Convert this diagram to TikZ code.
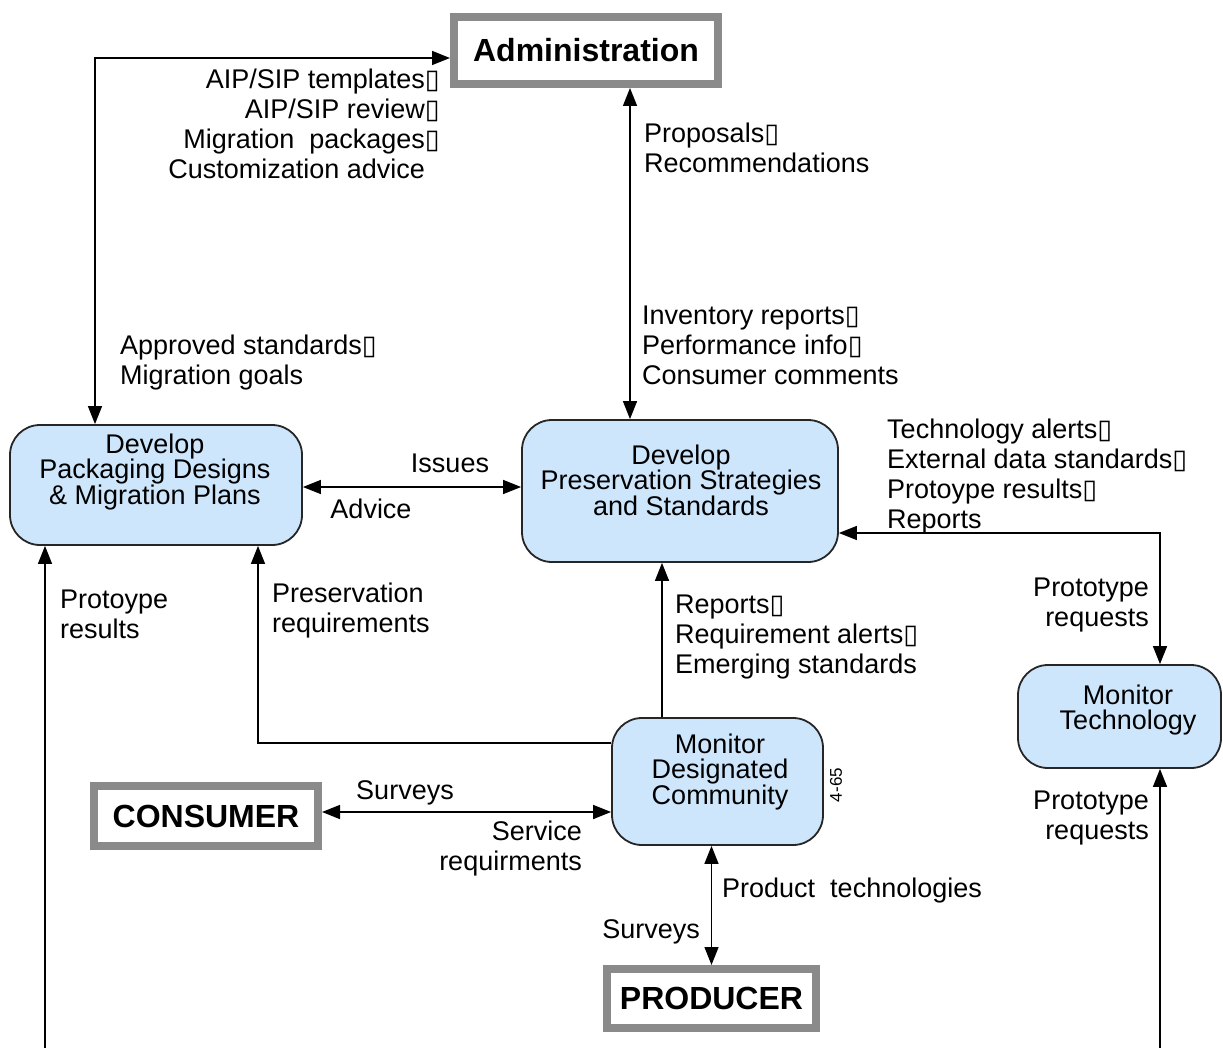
\documentclass[tikz,border=0pt]{standalone}
\usepackage{fontspec}
\setmainfont{Liberation Sans}
\newfontfamily\dvfont{DejaVu Sans}
\usetikzlibrary{arrows.meta}
\newcommand\tofu{{\dvfont ▯}}
\definecolor{procblue}{RGB}{205,230,252}
\definecolor{boxgray}{RGB}{138,138,138}
\begin{document}
\begin{tikzpicture}[x=1pt,y=-1pt,
  graybox/.style={draw=boxgray, line width=8pt, fill=white, inner sep=0pt, font=\fontsize{32}{36}\selectfont\bfseries},
  procbox/.style={draw=black!85, line width=1.8pt, fill=procblue, rounded corners=30pt, inner sep=0pt},
  boxtext/.style={align=center, font=\fontsize{27}{25.5}\selectfont, inner sep=0pt},
  lbl/.style={font=\fontsize{27}{30}\selectfont, inner sep=0pt},
  tip/.tip={Triangle[length=18pt,width=14pt]},
  arr/.style={line width=1.5pt, -tip},
  biarr/.style={line width=1.5pt, tip-tip}]
\useasboundingbox (0,0) rectangle (1223,1048);
% gray entity boxes
\node[graybox, minimum width=264pt, minimum height=67pt] (admin) at (586,50.5) {Administration};
\node[graybox, minimum width=224pt, minimum height=60pt] (consumer) at (206,816) {CONSUMER};
\node[graybox, minimum width=209pt, minimum height=59pt] (producer) at (711.5,998.5) {PRODUCER};
% process boxes
\node[procbox, minimum width=292pt, minimum height=120pt] (pack) at (156,485) {};
\node[boxtext] (packtext) at (155,472) {Develop\\Packaging Designs\\\& Migration Plans};
\node[procbox, minimum width=316pt, minimum height=142pt] (pres) at (680,491) {};
\node[boxtext] (prestext) at (681,480) {Develop\\Preservation Strategies\\and Standards};
\node[procbox, minimum width=211pt, minimum height=127pt] (mondc) at (717.5,781.5) {};
\node[boxtext] (mondctext) at (720,772) {Monitor\\Designated\\Community};
\node[procbox, minimum width=203pt, minimum height=103pt] (montech) at (1119.5,716.5) {};
\node[boxtext] (montechtext) at (1128,710) {Monitor\\Technology};
\node[inner sep=0pt, rotate=90, font=\fontsize{17}{17}\selectfont] (pagenum) at (836,785) {4-65};
% free ends
\coordinate (pkbot) at (45,1048);
\coordinate (mtbot) at (1160,1048);
% connectors
\draw[biarr] ([yshift=-7.5pt]admin.west) -| ([xshift=-61pt]pack.north);
\draw[biarr] ([xshift=44pt]admin.south) -- ([xshift=-50pt]pres.north);
\draw[biarr] ([yshift=-2pt]pack.east) -- ([yshift=-2pt]pack.east -| pres.west);
\draw[biarr] ([yshift=-42pt]pres.east) -| ([xshift=40.5pt]montech.north);
\draw[arr] (mtbot) -- (mtbot |- montech.south);
\draw[arr] (pkbot) -- (pkbot |- pack.south);
\draw[arr] ([yshift=38.5pt]mondc.west) -| ([xshift=102pt]pack.south);
\draw[arr] ([xshift=-55.5pt]mondc.north) -- ([xshift=-55.5pt]mondc.north |- pres.south);
\draw[biarr] ([yshift=4pt]consumer.east) -- ([yshift=4pt]consumer.east -| mondc.west);
\draw[biarr] (producer.north |- mondc.south) -- (producer.north);
% labels
\node[lbl, align=right, anchor=east] (l1) at (440,125.5) {AIP/SIP templates\tofu\\AIP/SIP review\tofu\\Migration\ \ packages\tofu\\Customization advice\phantom{\tofu}};
\node[lbl, align=left, anchor=west] (l2) at (120,363) {Approved standards\tofu\\Migration goals};
\node[lbl, align=left, anchor=west] (l3) at (644,148) {Proposals\tofu\\Recommendations};
\node[lbl, align=left, anchor=west] (l4) at (642,345) {Inventory reports\tofu\\Performance info\tofu\\Consumer comments};
\node[lbl] (l5) at (450,463) {Issues};
\node[lbl] (l6) at (371,509) {Advice};
\node[lbl, align=left, anchor=west] (l7) at (887,477) {Technology alerts\tofu\\External data standards\tofu\\Protoype results\tofu\\Reports};
\node[lbl, align=right, anchor=east] (l8) at (1149,605) {Prototype\\requests};
\node[lbl, align=right, anchor=east] (l9) at (1149,818) {Prototype\\requests};
\node[lbl, align=left, anchor=west] (l10) at (60,614) {Protoype\\results};
\node[lbl, align=left, anchor=west] (l11) at (272,611) {Preservation\\requirements};
\node[lbl, align=left, anchor=west] (l12) at (675,637) {Reports\tofu\\Requirement alerts\tofu\\Emerging standards};
\node[lbl] (l13) at (405,793) {Surveys};
\node[lbl, align=right, anchor=east] (l14) at (582,849) {Service\\requirments};
\node[lbl, anchor=west] (l15) at (722,891) {Product\ \ technologies};
\node[lbl, anchor=east] (l16) at (700,932) {Surveys};
\end{tikzpicture}
\end{document}
